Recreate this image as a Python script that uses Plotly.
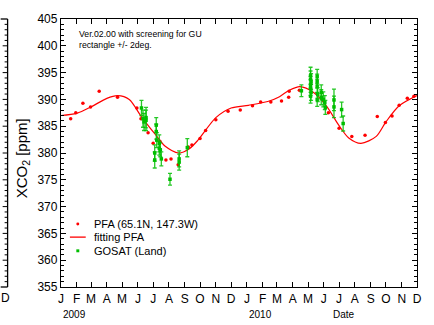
import plotly.graph_objects as go

# ---- data ----
pfa_dates = ["2009-01-20", "2009-01-30", "2009-02-13", "2009-02-28", "2009-03-17", "2009-04-22",
             "2009-05-30", "2009-06-07", "2009-06-21", "2009-07-01", "2009-07-14", "2009-07-26",
             "2009-08-05", "2009-08-19", "2009-09-08", "2009-09-15", "2009-10-01", "2009-10-12",
             "2009-11-01", "2009-11-25", "2009-12-19", "2010-01-12", "2010-01-28", "2010-02-17",
             "2010-03-10", "2010-03-24", "2010-03-25", "2010-04-14", "2010-06-10", "2010-07-01",
             "2010-07-26", "2010-08-21", "2010-09-14", "2010-09-30", "2010-10-13", "2010-10-27",
             "2010-11-12", "2010-11-25"]
pfa_vals = [386.4, 387.5, 389.3, 388.6, 391.5, 390.4,
            388.4, 386.4, 383.8, 381.8, 382.2, 378.7,
            378.9, 377.8, 381.1, 381.5, 382.7, 384.2,
            386.2, 387.8, 388.0, 388.8, 389.5, 389.5,
            389.7, 390.4, 391.5, 391.7, 387.5, 384.6,
            383.1, 383.3, 386.8, 385.7, 386.9, 388.9,
            390.2, 390.6]

fit_dates = ["2009-01-01", "2009-02-01", "2009-03-01", "2009-04-01", "2009-04-22", "2009-05-15",
             "2009-06-07", "2009-07-04", "2009-07-24", "2009-08-20", "2009-09-10", "2009-09-27",
             "2009-11-01", "2009-12-01", "2010-01-04", "2010-02-11", "2010-03-06", "2010-03-25",
             "2010-04-15", "2010-05-12", "2010-06-06", "2010-07-01", "2010-07-20", "2010-08-13",
             "2010-09-12", "2010-10-01", "2010-10-27", "2010-12-01"]
fit_vals = [387.0, 387.4, 388.6, 390.2, 390.7, 390.0,
            386.9, 383.6, 381.3, 380.0, 380.8, 382.4,
            386.6, 388.4, 388.9, 389.6, 390.5, 391.7,
            392.4, 391.3, 388.8, 385.1, 382.8, 381.8,
            383.1, 385.8, 388.8, 390.7]

gosat_dates = ["2009-06-08", "2009-06-11", "2009-06-13", "2009-06-17", "2009-06-17", "2009-07-07",
               "2009-07-07", "2009-07-08", "2009-07-13", "2009-07-13", "2009-07-15", "2009-07-04",
               "2009-07-04", "2009-07-17", "2009-08-03", "2009-08-21", "2009-08-21", "2009-09-06",
               "2010-04-18", "2010-05-06", "2010-05-06", "2010-05-07", "2010-05-06", "2010-05-06",
               "2010-05-07", "2010-05-06", "2010-05-19", "2010-05-19", "2010-05-19", "2010-05-20",
               "2010-05-19", "2010-05-27", "2010-05-27", "2010-05-31", "2010-06-03", "2010-06-04",
               "2010-06-21", "2010-06-21", "2010-07-06", "2010-07-09"]
gosat_vals = [388.4, 386.4, 385.8, 386.6, 386.1, 385.2,
              384.0, 382.4, 381.8, 380.9, 380.6, 380.0,
              378.7, 378.9, 375.1, 378.9, 378.3, 381.0,
              391.6, 394.4, 393.7, 393.3, 392.8, 392.2,
              391.3, 390.6, 394.3, 393.4, 392.5, 390.9,
              390.0, 391.3, 390.4, 390.0, 389.4, 388.5,
              389.9, 388.6, 388.1, 385.5]
gosat_err = [1.4, 1.6, 1.6, 1.9, 1.9, 1.4,
             1.4, 1.4, 1.6, 1.3, 1.3, 1.5,
             1.5, 1.3, 1.1, 1.5, 1.5, 1.7,
             1.1, 1.6, 1.6, 1.5, 1.5, 1.5,
             1.5, 1.3, 1.3, 1.3, 1.3, 1.3,
             1.3, 1.4, 1.4, 1.4, 1.3, 1.3,
             2.0, 2.0, 1.4, 1.4]

month_ticks = ["2009-%02d-01" % m for m in range(1, 13)] + ["2010-%02d-01" % m for m in range(1, 13)]
month_labels = list("JFMAMJJASOND") * 2
y_ticks = list(range(355, 406, 5))
legend_names = ["PFA (65.1N, 147.3W)", "fitting PFA", "GOSAT (Land)"]

FONT = "Liberation Sans, Arial, sans-serif"
GREEN = "rgb(0,190,0)"

fig = go.Figure()
fig.add_trace(go.Scatter(x=pfa_dates, y=pfa_vals, mode="markers",
                         marker=dict(color="red", size=3.5),
                         name=legend_names[0], showlegend=False))
fig.add_trace(go.Scatter(x=fit_dates, y=fit_vals, mode="lines",
                         line=dict(color="red", width=1.2, shape="spline", smoothing=0.8),
                         name=legend_names[1], showlegend=False))
fig.add_trace(go.Scatter(x=gosat_dates, y=gosat_vals, mode="markers",
                         marker=dict(color=GREEN, size=3.5, symbol="square"),
                         error_y=dict(type="data", array=gosat_err, color="rgba(0,190,0,0.85)",
                                      thickness=1.3, width=2),
                         name=legend_names[2], showlegend=False))

axis_common = dict(showline=True, linecolor="black", linewidth=1.3, mirror="ticks",
                   ticks="inside", ticklen=5, tickcolor="black", tickwidth=1,
                   showgrid=False, zeroline=False,
                   tickfont=dict(family=FONT, size=12, color="black"))

fig.update_xaxes(range=["2009-01-01", "2010-12-01"], tickmode="array",
                 tickvals=month_ticks, ticktext=month_labels, **axis_common)
fig.update_yaxes(range=[355, 405], tickmode="array", tickvals=y_ticks,
                 minor=dict(dtick=1, ticks="inside", ticklen=3, tickcolor="black"),
                 **axis_common)

W, H = 360.0, 274.0


def px(x):
    return (x - 61) / W


def py(y):
    return (287 - y) / H


annotations = [
    dict(text="Ver.02.00 with screening for GU<br>rectangle +/- 2deg.", xref="paper", yref="paper",
         x=px(77), y=py(21), xanchor="left", yanchor="top", align="left",
         showarrow=False, font=dict(family=FONT, size=8.7, color="black")),
    dict(text="XCO<sub>2</sub> [ppm]", xref="paper", yref="paper", x=px(22), y=py(155),
         textangle=-90, showarrow=False, xanchor="center", yanchor="middle",
         font=dict(family=FONT, size=15, color="black")),
    dict(text="2009", xref="x", yref="paper", x="2009-01-01", y=py(315),
         xanchor="left", yanchor="middle", showarrow=False, font=dict(family=FONT, size=10, color="black")),
    dict(text="2010", xref="x", yref="paper", x="2010-01-01", y=py(315),
         xanchor="left", yanchor="middle", showarrow=False, font=dict(family=FONT, size=10, color="black")),
    dict(text="Date", xref="paper", yref="paper", x=px(334), y=py(315),
         xanchor="left", yanchor="middle", showarrow=False, font=dict(family=FONT, size=10, color="black")),
    dict(text="D", xref="paper", yref="paper", x=px(5), y=py(298),
         xanchor="center", yanchor="middle", showarrow=False, font=dict(family=FONT, size=12, color="black")),
]
# legend texts
for name, ly in zip(legend_names, [222.5, 236, 250]):
    annotations.append(dict(text=name, xref="paper", yref="paper", x=px(92), y=py(ly),
                            xanchor="left", yanchor="middle", showarrow=False,
                            font=dict(family=FONT, size=11, color="black")))

shapes = [
    # legend glyphs
    dict(type="circle", xref="paper", yref="paper", x0=px(76.5), x1=px(79.5), y0=py(224), y1=py(221),
         fillcolor="red", line=dict(width=0)),
    dict(type="line", xref="paper", yref="paper", x0=px(70), x1=px(86), y0=py(236), y1=py(236),
         line=dict(color="red", width=1.3)),
    dict(type="rect", xref="paper", yref="paper", x0=px(76.5), x1=px(79.5), y0=py(251.5), y1=py(248.5),
         fillcolor=GREEN, line=dict(width=0)),
]
# neighbouring panel frame sliver on the left
sx0, sx1 = px(0), px(7)
shapes += [
    dict(type="line", xref="paper", yref="paper", x0=sx1, x1=sx1, y0=0, y1=1, line=dict(color="black", width=1.3)),
    dict(type="line", xref="paper", yref="paper", x0=sx0, x1=sx1, y0=1, y1=1, line=dict(color="black", width=1.3)),
    dict(type="line", xref="paper", yref="paper", x0=sx0, x1=sx1, y0=0, y1=0, line=dict(color="black", width=1.3)),
]
for v in range(356, 405):
    ln = 5 if v % 5 == 0 else 3
    shapes.append(dict(type="line", xref="paper", yref="y", x0=sx1, x1=sx1 - ln / W, y0=v, y1=v,
                       line=dict(color="black", width=1)))

fig.update_layout(
    width=434, height=325,
    margin=dict(l=61, r=13, t=13, b=38),
    paper_bgcolor="white", plot_bgcolor="white",
    font=dict(family=FONT, size=12, color="black"),
    showlegend=False,
    annotations=annotations,
    shapes=shapes,
)

fig.write_html("out.html")
